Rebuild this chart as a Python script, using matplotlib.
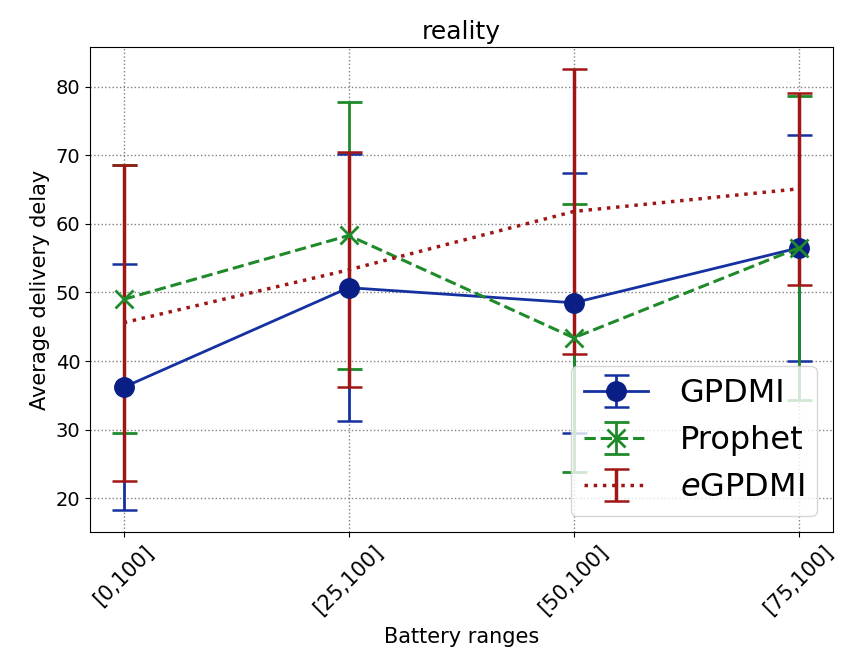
import matplotlib
matplotlib.use("Agg")
import matplotlib.pyplot as plt
import numpy as np

# battery ranges on the x axis
ranges = ['[0,100]', '[25,100]', '[50,100]', '[75,100]']

# mean delivery delay and its error per method
gpdmi_mean = [36.2, 50.7, 48.5, 56.5]
gpdmi_err = [17.9, 19.4, 18.9, 16.5]
prophet_mean = [49.0, 58.3, 43.4, 56.5]
prophet_err = [19.5, 19.5, 19.5, 22.1]
egpdmi_mean = [45.6, 53.3, 61.8, 65.1]
egpdmi_err = [23.0, 17.1, 20.7, 14.0]

x = np.arange(len(ranges))

fig, ax = plt.subplots(figsize=(8.41, 6.57), dpi=100)
fig.subplots_adjust(left=0.107, right=0.99, top=0.928, bottom=0.19)

ax.errorbar(x, gpdmi_mean, yerr=gpdmi_err, label='GPDMI', color='#1530a0',
            linestyle='-', linewidth=2, marker='o', markersize=14,
            markerfacecolor='#0a1f86', markeredgecolor='#0a1f86',
            elinewidth=2, capsize=9, capthick=1.8)
ax.errorbar(x, prophet_mean, yerr=prophet_err, label='Prophet', color='#1f8a2a',
            linestyle='--', linewidth=2.2, marker='x', markersize=13, markeredgewidth=2,
            elinewidth=2, capsize=9, capthick=1.8)
ax.errorbar(x, egpdmi_mean, yerr=egpdmi_err, label='$e$GPDMI', color='#a01515',
            linestyle=':', linewidth=2.5, elinewidth=2.5, capsize=9, capthick=1.8)

ax.set_title('reality', fontsize=18)
ax.set_xlabel('Battery ranges', fontsize=15, labelpad=6)
ax.set_ylabel('Average delivery delay', fontsize=15)
ax.set_xticks(x)
ax.set_xticklabels(ranges, rotation=45, fontsize=15)
ax.tick_params(axis='y', labelsize=14)
ax.grid(True, linestyle=':', color='gray', linewidth=1)
ax.legend(loc='lower right', fontsize=23, handletextpad=1.0)

plt.savefig('out.png', dpi=100)
